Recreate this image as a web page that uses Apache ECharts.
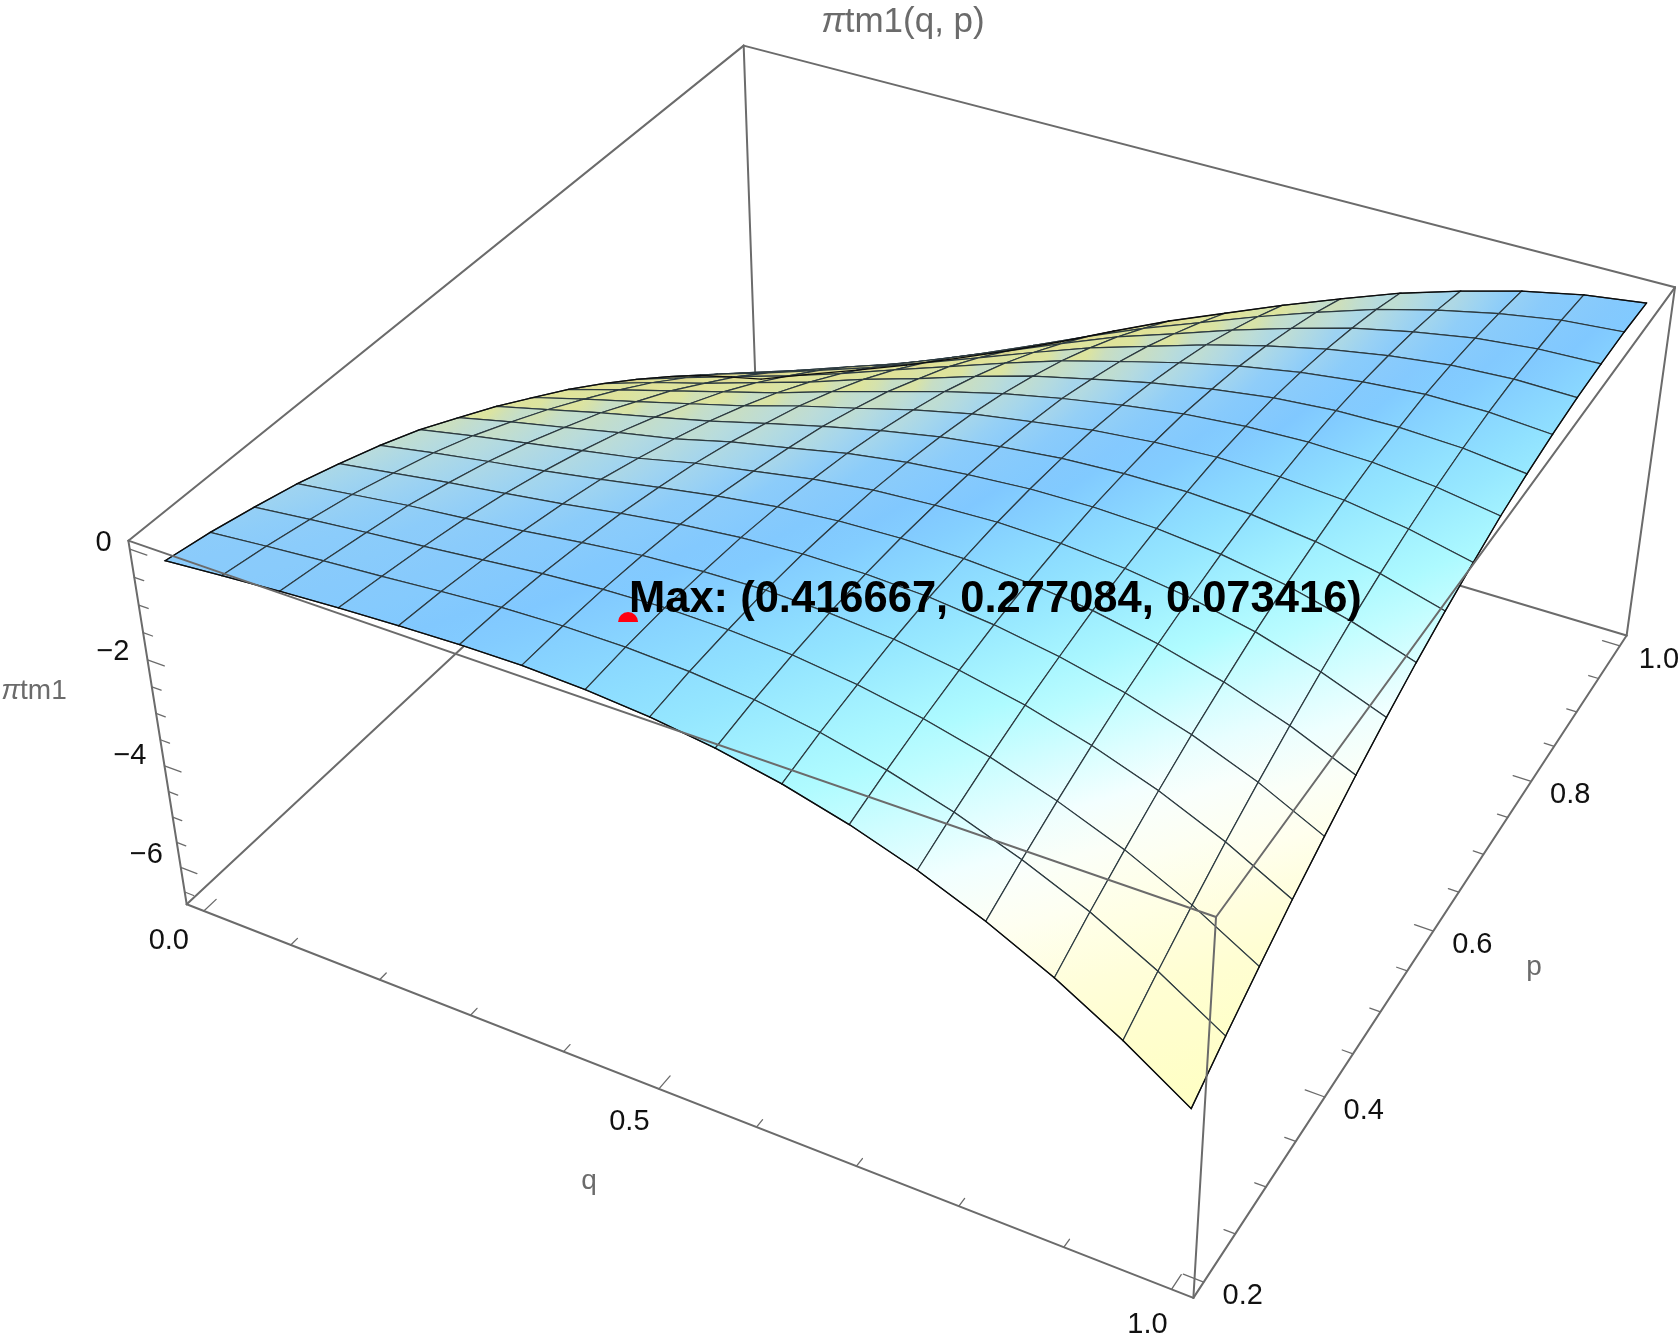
<!DOCTYPE html>
<html>
<head>
<meta charset="utf-8">
<title>πtm1(q, p)</title>
<script src="https://cdn.jsdelivr.net/npm/echarts@6/dist/echarts.min.js"></script>
<style>
  html, body { margin: 0; background: #fff; }
  #chart { width: 1680px; height: 1339px; }
</style>
</head>
<body>
<div id="chart"></div>
<script>
// values, one row per q mesh line, one column per p mesh line
const qValues = [0, 0.0625, 0.125, 0.1875, 0.25, 0.3125, 0.375, 0.4375, 0.5, 0.5625, 0.625, 0.6875, 0.75, 0.8125, 0.875, 0.9375, 1];
const pValues = [0.2, 0.25, 0.3, 0.35, 0.4, 0.45, 0.5, 0.55, 0.6, 0.65, 0.7, 0.75, 0.8, 0.85, 0.9, 0.95, 1];
const zByQ = [
  [-0.30, -0.44, -0.62, -0.82, -1.07, -1.34, -1.65, -2.02, -2.40, -2.82, -3.25, -3.72, -4.22, -4.75, -5.31, -5.93, -6.56],
  [-0.21, -0.34, -0.50, -0.68, -0.91, -1.15, -1.44, -1.78, -2.14, -2.53, -2.94, -3.38, -3.87, -4.38, -4.93, -5.53, -6.14],
  [-0.13, -0.25, -0.39, -0.54, -0.75, -0.98, -1.25, -1.56, -1.88, -2.26, -2.64, -3.08, -3.53, -4.04, -4.57, -5.13, -5.73],
  [-0.06, -0.17, -0.29, -0.43, -0.61, -0.82, -1.06, -1.33, -1.64, -1.98, -2.34, -2.75, -3.20, -3.67, -4.18, -4.73, -5.31],
  [-0.01, -0.08, -0.18, -0.31, -0.46, -0.64, -0.87, -1.12, -1.39, -1.70, -2.04, -2.42, -2.84, -3.30, -3.80, -4.32, -4.85],
  [0.03, 0.00, -0.07, -0.17, -0.29, -0.45, -0.63, -0.85, -1.11, -1.38, -1.70, -2.05, -2.45, -2.89, -3.36, -3.86, -4.38],
  [0.04, 0.04, 0.01, -0.05, -0.14, -0.27, -0.44, -0.63, -0.84, -1.10, -1.38, -1.72, -2.07, -2.48, -2.92, -3.38, -3.88],
  [0.00, 0.04, 0.05, 0.02, -0.03, -0.12, -0.25, -0.40, -0.59, -0.81, -1.06, -1.36, -1.69, -2.06, -2.46, -2.89, -3.35],
  [-0.09, -0.01, 0.03, 0.05, 0.03, -0.03, -0.11, -0.23, -0.38, -0.56, -0.78, -1.04, -1.33, -1.66, -2.02, -2.42, -2.84],
  [-0.24, -0.12, -0.04, 0.01, 0.03, 0.01, -0.04, -0.12, -0.23, -0.38, -0.55, -0.78, -1.03, -1.32, -1.65, -2.00, -2.38],
  [-0.46, -0.30, -0.18, -0.08, -0.02, 0.00, 0.00, -0.04, -0.11, -0.21, -0.35, -0.53, -0.74, -0.98, -1.27, -1.58, -1.92],
  [-0.76, -0.56, -0.39, -0.25, -0.14, -0.07, -0.03, -0.02, -0.05, -0.10, -0.19, -0.33, -0.49, -0.69, -0.93, -1.19, -1.49],
  [-1.14, -0.89, -0.67, -0.48, -0.33, -0.20, -0.12, -0.06, -0.04, -0.04, -0.09, -0.17, -0.29, -0.44, -0.62, -0.83, -1.08],
  [-1.61, -1.31, -1.04, -0.80, -0.59, -0.42, -0.28, -0.17, -0.10, -0.06, -0.05, -0.08, -0.15, -0.25, -0.38, -0.54, -0.74],
  [-2.17, -1.81, -1.49, -1.20, -0.94, -0.72, -0.52, -0.36, -0.24, -0.14, -0.08, -0.06, -0.06, -0.11, -0.19, -0.30, -0.44],
  [-2.84, -2.43, -2.05, -1.70, -1.39, -1.11, -0.86, -0.64, -0.46, -0.31, -0.19, -0.11, -0.06, -0.05, -0.08, -0.12, -0.21],
  [-3.61, -3.15, -2.72, -2.31, -1.95, -1.60, -1.29, -1.01, -0.77, -0.56, -0.37, -0.24, -0.14, -0.07, -0.04, -0.03, -0.06]
];
const maxPoint = [0.416667, 0.277084, 0.073416];
const maxLabel = 'Max: (0.416667, 0.277084, 0.073416)';

const zTicks = [0, -0.5, -1, -1.5, -2, -2.5, -3, -3.5, -4, -4.5, -5, -5.5, -6, -6.5];
const zLabels = [0, -2, -4, -6];
const qTicks = [0, 0.1, 0.2, 0.3, 0.4, 0.5, 0.6, 0.7, 0.8, 0.9, 1];
const qLabels = [0, 0.5, 1];
const pTicks = [0.2, 0.25, 0.3, 0.35, 0.4, 0.45, 0.5, 0.55, 0.6, 0.65, 0.7, 0.75, 0.8, 0.85, 0.9, 0.95, 1];
const pLabels = [0.2, 0.4, 0.6, 0.8, 1];

// box range, a bit wider than the data like Mathematica's plot range padding
const qRange = [-0.02, 1.02];
const pRange = [0.184, 1.016];
const zRange = [-6.75, 0.15];

// where the eight box corners sit on the page, the camera is fitted from these
const boxCorners = [
  [0, 0, 0, 186, 903], [1, 0, 0, 1194, 1298], [1, 1, 0, 1627, 634], [0, 1, 0, 755, 377],
  [0, 0, 1, 129, 541], [1, 0, 1, 1215.5, 918], [1, 1, 1, 1674.5, 288], [0, 1, 1, 744, 44]
];

function solve(A, b) {
  const n = b.length;
  for (let c = 0; c < n; c++) {
    let best = c;
    for (let r = c + 1; r < n; r++) if (Math.abs(A[r][c]) > Math.abs(A[best][c])) best = r;
    [A[c], A[best]] = [A[best], A[c]];
    [b[c], b[best]] = [b[best], b[c]];
    for (let r = c + 1; r < n; r++) {
      const f = A[r][c] / A[c][c];
      for (let k = c; k < n; k++) A[r][k] -= f * A[c][k];
      b[r] -= f * b[c];
    }
  }
  const out = new Array(n).fill(0);
  for (let r = n - 1; r >= 0; r--) {
    let s = b[r];
    for (let k = r + 1; k < n; k++) s -= A[r][k] * out[k];
    out[r] = s / A[r][r];
  }
  return out;
}

function fitCamera() {
  const ata = Array.from({ length: 11 }, () => new Array(11).fill(0));
  const atb = new Array(11).fill(0);
  boxCorners.forEach(([X, Y, Z, px, py]) => {
    [
      [[X, Y, Z, 1, 0, 0, 0, 0, -px * X, -px * Y, -px * Z], px],
      [[0, 0, 0, 0, X, Y, Z, 1, -py * X, -py * Y, -py * Z], py]
    ].forEach(([row, rhs]) => {
      for (let a = 0; a < 11; a++) {
        atb[a] += row[a] * rhs;
        for (let b = 0; b < 11; b++) ata[a][b] += row[a] * row[b];
      }
    });
  });
  return solve(ata, atb);
}

const cam = fitCamera();

function boxToPage(X, Y, Z) {
  const w = cam[8] * X + cam[9] * Y + cam[10] * Z + 1;
  return [
    (cam[0] * X + cam[1] * Y + cam[2] * Z + cam[3]) / w,
    (cam[4] * X + cam[5] * Y + cam[6] * Z + cam[7]) / w
  ];
}
const toX = q => (q - qRange[0]) / (qRange[1] - qRange[0]);
const toY = p => (p - pRange[0]) / (pRange[1] - pRange[0]);
const toZ = z => (z - zRange[0]) / (zRange[1] - zRange[0]);
const project = (q, p, z) => boxToPage(toX(q), toY(p), toZ(z));

// colour runs with the tilt of the surface, from the far crest to the near corner
const ramp = [
  [-1.0, [175, 155, 115]], [-0.9, [205, 195, 125]], [-0.78, [226, 226, 150]], [-0.65, [220, 228, 160]],
  [-0.59, [200, 222, 195]], [-0.48, [185, 220, 220]], [-0.36, [160, 212, 240]], [-0.27, [140, 204, 250]],
  [-0.1, [128, 200, 255]], [0.16, [146, 228, 255]], [0.38, [176, 252, 255]], [0.62, [248, 255, 255]],
  [0.74, [255, 255, 238]], [0.86, [255, 254, 212]], [1.05, [255, 255, 190]]
];
function rampColor(t) {
  if (t <= ramp[0][0]) return 'rgb(' + ramp[0][1].join(',') + ')';
  for (let k = 1; k < ramp.length; k++) {
    if (t <= ramp[k][0]) {
      const f = (t - ramp[k - 1][0]) / (ramp[k][0] - ramp[k - 1][0]);
      const c = ramp[k][1].map((v, n) => Math.round(ramp[k - 1][1][n] + (v - ramp[k - 1][1][n]) * f));
      return 'rgb(' + c.join(',') + ')';
    }
  }
  return 'rgb(' + ramp[ramp.length - 1][1].join(',') + ')';
}

// slope over two mesh steps each way, the table is only good to 0.01
const zScale = 0.4 / (zRange[1] - zRange[0]);
function tilt(i, j) {
  const i0 = Math.max(i - 2, 0), i1 = Math.min(i + 2, qValues.length - 1);
  const j0 = Math.max(j - 2, 0), j1 = Math.min(j + 2, pValues.length - 1);
  const dq = (zByQ[i1][j] - zByQ[i0][j]) / (i1 - i0) * (qValues.length - 1);
  const dp = (zByQ[i][j1] - zByQ[i][j0]) / (j1 - j0) * (pValues.length - 1);
  return (1.3 * dp - 0.7 * dq) * zScale;
}

// far cells first so the near ones paint over them
const cells = [];
for (let i = 0; i < qValues.length - 1; i++) {
  for (let j = 0; j < pValues.length - 1; j++) {
    const idx = [[i, j], [i + 1, j], [i + 1, j + 1], [i, j + 1]];
    cells.push({
      order: i - j,
      pts: idx.map(([a, b]) => project(qValues[a], pValues[b], zByQ[a][b])),
      tilts: idx.map(([a, b]) => tilt(a, b))
    });
  }
}
cells.sort((a, b) => a.order - b.order);

function cellItem(params, api) {
  const cell = cells[params.dataIndex];
  const points = cell.pts.map(pt => api.coord(pt));
  let lo = 0, hi = 0;
  cell.tilts.forEach((t, n) => {
    if (t < cell.tilts[lo]) lo = n;
    if (t > cell.tilts[hi]) hi = n;
  });
  const tLo = cell.tilts[lo], tHi = cell.tilts[hi];
  const fill = new echarts.graphic.LinearGradient(
    points[lo][0], points[lo][1], points[hi][0], points[hi][1] + (lo === hi ? 1 : 0),
    [
      { offset: 0, color: rampColor(tLo) },
      { offset: 0.5, color: rampColor((tLo + tHi) / 2) },
      { offset: 1, color: rampColor(tHi) }
    ],
    true
  );
  return {
    type: 'polygon',
    shape: { points: points },
    style: { fill: fill, stroke: '#2c3a40', lineWidth: 1.2 }
  };
}

// segments are [x0, y0, x1, y1] on the page axes
function segmentSeries(segments, color, width, z) {
  return {
    type: 'custom',
    coordinateSystem: 'cartesian2d',
    z: z,
    silent: true,
    clip: false,
    animation: false,
    encode: { x: [0, 2], y: [1, 3] },
    data: segments,
    renderItem: (params, api) => {
      const a = api.coord([api.value(0), api.value(1)]);
      const b = api.coord([api.value(2), api.value(3)]);
      return {
        type: 'line',
        shape: { x1: a[0], y1: a[1], x2: b[0], y2: b[1] },
        style: { stroke: color, lineWidth: width, lineCap: 'round' }
      };
    }
  };
}

function boxEdge(a, b) {
  return boxToPage(a[0], a[1], a[2]).concat(boxToPage(b[0], b[1], b[2]));
}
const backEdges = [
  [[0, 0, 0], [0, 1, 0]], [[0, 1, 0], [1, 1, 0]], [[0, 1, 0], [0, 1, 1]],
  [[0, 0, 1], [0, 1, 1]], [[0, 1, 1], [1, 1, 1]]
].map(e => boxEdge(e[0], e[1]));
const frontEdges = [
  [[0, 0, 0], [0, 0, 1]], [[0, 0, 0], [1, 0, 0]], [[1, 0, 0], [1, 1, 0]], [[1, 1, 0], [1, 1, 1]],
  [[1, 1, 1], [1, 0, 1]], [[1, 0, 1], [0, 0, 1]], [[1, 0, 1], [1, 0, 0]]
].map(e => boxEdge(e[0], e[1]));

// tick marks
const majorLen = 0.018, minorLen = 0.01;
const tickLen = (v, labels) => (labels.some(l => Math.abs(l - v) < 1e-9) ? majorLen : minorLen);
const tickSegments = [];
zTicks.forEach(v => {
  const z = toZ(v);
  tickSegments.push(boxToPage(0, 0, z).concat(boxToPage(tickLen(v, zLabels), 0, z)));
});
qTicks.forEach(v => {
  const x = toX(v);
  tickSegments.push(boxToPage(x, 0, 0).concat(boxToPage(x, tickLen(v, qLabels), 0)));
});
pTicks.forEach(v => {
  const y = toY(v);
  tickSegments.push(boxToPage(1, y, 0).concat(boxToPage(1 - tickLen(v, pLabels), y, 0)));
});

// outline of the surface
const outline = [];
const last = qValues.length - 1;
for (let n = 0; n < last; n++) {
  outline.push(project(qValues[n], pValues[0], zByQ[n][0]).concat(project(qValues[n + 1], pValues[0], zByQ[n + 1][0])));
  outline.push(project(qValues[n], pValues[last], zByQ[n][last]).concat(project(qValues[n + 1], pValues[last], zByQ[n + 1][last])));
  outline.push(project(qValues[0], pValues[n], zByQ[0][n]).concat(project(qValues[0], pValues[n + 1], zByQ[0][n + 1])));
  outline.push(project(qValues[last], pValues[n], zByQ[last][n]).concat(project(qValues[last], pValues[n + 1], zByQ[last][n + 1])));
}

const FONT = '"Liberation Sans", Arial, Helvetica, sans-serif';
const BLACK = '#111111', GREY = '#6b6b6b';
const fmt = v => (v < 0 ? '\u2212' + Math.abs(v) : String(v));

const texts = [];
zLabels.forEach(v => {
  const t = boxToPage(0, 0, toZ(v));
  texts.push({ pos: [t[0] - 18, t[1] - 6.5 + v * 0.9], text: fmt(v), align: 'right', size: 29, color: BLACK });
});
qLabels.forEach(v => {
  const t = boxToPage(toX(v), 0, 0);
  texts.push({ pos: [t[0] - 35 + 11 * v, t[1] + 30 + 6 * v], text: v.toFixed(1), align: 'center', size: 29, color: BLACK });
});
pLabels.forEach(v => {
  const t = boxToPage(1, toY(v), 0);
  texts.push({ pos: [t[0] + 39, t[1] + 14], text: v.toFixed(1), align: 'center', size: 29, color: BLACK });
});
texts.push({ pos: [903, 22], text: '{pi|\u03c0}tm1(q, p)', align: 'center', size: 35, color: GREY });
texts.push({ pos: [34, 691], text: '{pi|\u03c0}tm1', align: 'center', size: 28, color: GREY });
texts.push({ pos: [589, 1181], text: 'q', align: 'center', size: 28, color: GREY });
texts.push({ pos: [1534, 967], text: 'p', align: 'center', size: 28, color: GREY });
texts.push({ pos: [629, 600], text: maxLabel, align: 'left', size: 43.5, color: '#000000', weight: 'bold' });

// the marker sphere is half sunk in the surface, only its dome shows
const maxPos = project(maxPoint[0], maxPoint[1], maxPoint[2]);
const domeShift = [2, 5];

const chart = echarts.init(document.getElementById('chart'), null, { renderer: 'canvas' });
chart.setOption({
  animation: false,
  backgroundColor: '#ffffff',
  grid: { left: 0, right: 0, top: 0, bottom: 0 },
  xAxis: { type: 'value', min: 0, max: 1680, show: false },
  yAxis: { type: 'value', min: 0, max: 1339, inverse: true, show: false },
  series: [
    segmentSeries(backEdges, GREY, 2, 1),
    {
      type: 'custom',
      coordinateSystem: 'cartesian2d',
      z: 2,
      silent: true,
      clip: false,
      animation: false,
      progressive: 0,
      data: cells.map(c => c.pts[0]),
      renderItem: cellItem
    },
    segmentSeries(outline, '#0c0c0c', 1.3, 3),
    segmentSeries(frontEdges, GREY, 2, 4),
    segmentSeries(tickSegments, GREY, 1.3, 4),
    {
      type: 'custom',
      coordinateSystem: 'cartesian2d',
      z: 5,
      silent: true,
      clip: false,
      animation: false,
      data: [maxPos],
      renderItem: (params, api) => {
        const c = api.coord([api.value(0), api.value(1)]);
        return {
          type: 'sector',
          shape: { cx: c[0] + domeShift[0], cy: c[1] + domeShift[1], r0: 0, r: 10, startAngle: Math.PI, endAngle: Math.PI * 2 },
          style: { fill: '#ff0010' }
        };
      }
    },
    {
      type: 'custom',
      coordinateSystem: 'cartesian2d',
      z: 6,
      silent: true,
      clip: false,
      animation: false,
      data: texts.map(t => t.pos),
      renderItem: (params, api) => {
        const t = texts[params.dataIndex];
        const c = api.coord([api.value(0), api.value(1)]);
        return {
          type: 'text',
          x: c[0],
          y: c[1],
          style: {
            text: t.text,
            fill: t.color,
            font: (t.weight || 'normal') + ' ' + t.size + 'px ' + FONT,
            align: t.align,
            verticalAlign: 'middle',
            rich: { pi: { font: 'italic ' + t.size + 'px ' + FONT, fill: t.color } }
          }
        };
      }
    }
  ]
});
</script>
</body>
</html>
